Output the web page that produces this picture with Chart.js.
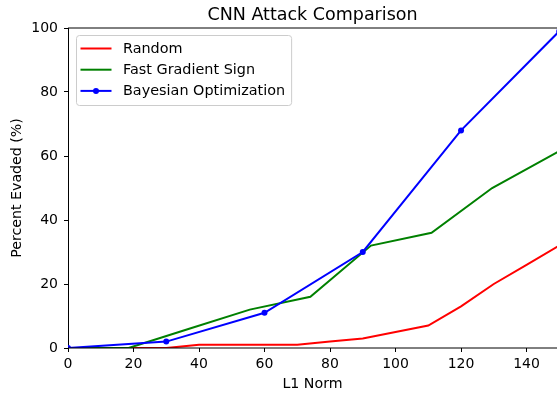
<!DOCTYPE html>
<html>
<head>
<meta charset="utf-8">
<script src="https://cdn.jsdelivr.net/npm/chart.js@4"></script>
<style>
  html, body { margin: 0; padding: 0; background: #fff; }
  #wrap { width: 557px; height: 396px; }
</style>
</head>
<body>
<div id="wrap"><canvas id="myChart"></canvas></div>
<script>
        // data
        const randomX = [0, 10, 20, 30, 40, 50, 60, 70, 80, 90, 100, 110, 120, 130, 140, 150];
        const randomY = [0, 0, 0, 0, 1, 1, 1, 1, 2, 3, 5, 7, 13, 20, 26, 32];
        const fgsX = [0, 18.5, 37, 55.5, 74, 92.5, 111, 129.5, 150];
        const fgsY = [0, 0, 6, 12, 16, 32, 36, 50, 61.5];
        const bayesX = [0, 30, 60, 90, 120, 150];
        const bayesY = [0, 2, 11, 30, 68, 99];
        const xTicks = [0, 20, 40, 60, 80, 100, 120, 140];
        const yTicks = [0, 20, 40, 60, 80, 100];
        const titleText = 'CNN Attack Comparison';

        const FONT = "'DejaVu Sans', sans-serif";

        function pts(xs, ys){
            let out = [];
            for(let i = 0; i < xs.length; i++){
                out.push({x: xs[i], y: ys[i]});
            }
            return out;
        }

        // matplotlib style spines, title over the plot area, legend box inside the plot
        const extras = {
            id: 'extras',
            afterDraw(chart){
                const c = chart.ctx;
                const a = chart.chartArea;
                c.save();
                c.strokeStyle = '#000';
                c.lineWidth = 1;
                c.beginPath();
                c.moveTo(a.left, Math.round(a.top));
                c.lineTo(a.right, Math.round(a.top));
                c.moveTo(a.left, Math.round(a.bottom));
                c.lineTo(a.right, Math.round(a.bottom));
                c.stroke();

                c.fillStyle = '#000';
                c.font = "17.5px " + FONT;
                c.textAlign = 'center';
                c.textBaseline = 'middle';
                c.fillText(titleText, (a.left + a.right) / 2, 15);

                // legend
                c.font = "14.4px " + FONT;
                let maxW = 0;
                chart.data.datasets.forEach(function(d){
                    maxW = Math.max(maxW, c.measureText(d.label).width);
                });
                const bx = a.left + 8, by = a.top + 7;
                const bw = 4.5 + 31 + 11.5 + maxW + 6, bh = 70;
                c.beginPath();
                c.roundRect(bx + 0.5, by + 0.5, bw, bh, 3);
                c.fillStyle = 'rgba(255,255,255,0.8)';
                c.fill();
                c.strokeStyle = '#cccccc';
                c.stroke();
                chart.data.datasets.forEach(function(d, i){
                    const y = by + 13.5 + i * 21.2;
                    const x0 = bx + 4.5;
                    c.strokeStyle = d.borderColor;
                    c.lineWidth = 2;
                    c.beginPath();
                    c.moveTo(x0, y);
                    c.lineTo(x0 + 31, y);
                    c.stroke();
                    if(d.pointRadius > 0){
                        c.fillStyle = d.borderColor;
                        c.beginPath();
                        c.arc(x0 + 15.5, y, d.pointRadius, 0, Math.PI * 2);
                        c.fill();
                    }
                    c.fillStyle = '#000';
                    c.textBaseline = 'middle';
                    c.textAlign = 'left';
                    c.fillText(d.label, x0 + 42.5, y + 0.5);
                });
                c.restore();
            }
        };

        const ctx = document.getElementById('myChart');

        new Chart(ctx, {
            type: 'line',
            data: {
                datasets: [{
                    label: 'Random',
                    data: pts(randomX, randomY),
                    borderColor: '#ff0000',
                    backgroundColor: '#ff0000',
                    borderWidth: 2,
                    pointRadius: 0,
                    tension: 0,
                    order: 3
                }, {
                    label: 'Fast Gradient Sign',
                    data: pts(fgsX, fgsY),
                    borderColor: '#008000',
                    backgroundColor: '#008000',
                    borderWidth: 2,
                    pointRadius: 0,
                    tension: 0,
                    order: 2
                }, {
                    label: 'Bayesian Optimization',
                    data: pts(bayesX, bayesY),
                    borderColor: '#0000ff',
                    backgroundColor: '#0000ff',
                    borderWidth: 2,
                    pointRadius: 3,
                    pointBorderWidth: 0,
                    tension: 0,
                    order: 1
                }]
            },
            options: {
                responsive: true,
                maintainAspectRatio: false,
                animation: false,
                layout: { autoPadding: false, padding: { top: 28, right: 0, bottom: 0, left: 0 } },
                plugins: {
                    legend: { display: false },
                    tooltip: { enabled: false },
                    title: { display: false }
                },
                scales: {
                    x: {
                        type: 'linear',
                        min: 0,
                        max: 149.3,
                        afterFit: function(s){ s.height = 48; s.paddingLeft = 0; s.paddingRight = 0; },
                        afterBuildTicks: function(s){ s.ticks = xTicks.map(v => ({value: v})); },
                        grid: { drawOnChartArea: false, tickLength: 4, color: '#000' },
                        border: { display: false },
                        ticks: { color: '#000', padding: 4, maxRotation: 0, font: { family: FONT, size: 14 } },
                        title: {
                            display: true,
                            text: 'L1 Norm',
                            color: '#000',
                            font: { family: FONT, size: 14.2 },
                            padding: { top: 0, bottom: 3.6 }
                        }
                    },
                    y: {
                        min: 0,
                        max: 100,
                        afterFit: function(s){ s.width = 68; s.paddingTop = 0; s.paddingBottom = 0; },
                        afterBuildTicks: function(s){ s.ticks = yTicks.map(v => ({value: v})); },
                        grid: { drawOnChartArea: false, tickLength: 4, color: '#000' },
                        border: { display: true, color: '#000', width: 1 },
                        ticks: { color: '#000', padding: 6, font: { family: FONT, size: 14 } },
                        title: {
                            display: true,
                            text: 'Percent Evaded (%)',
                            color: '#000',
                            font: { family: FONT, size: 14.2 },
                            padding: { top: 8.6, bottom: 0 }
                        }
                    }
                }
            },
            plugins: [extras]
        });
</script>
</body>
</html>
